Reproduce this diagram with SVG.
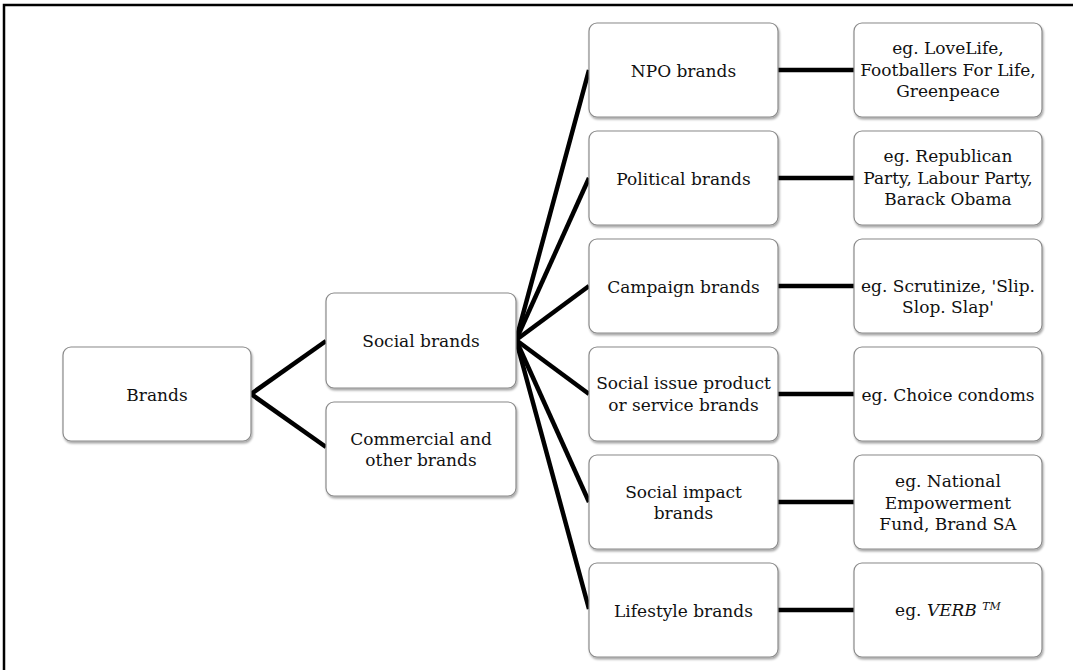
<svg xmlns="http://www.w3.org/2000/svg" width="1073" height="670" viewBox="0 0 1073 670">
<style>
.box{fill:#fff;stroke:#8a8a8a;stroke-width:1.2;filter:url(#sh)}
.t{font-family:"DejaVu Serif","Liberation Serif",serif;font-size:17px;fill:#111;text-anchor:middle}
.c{stroke:#000;stroke-width:4.5;fill:none}
.frame{stroke:#000;stroke-width:2.5;fill:none}
</style>
<defs>
<filter id="sh" x="-10%" y="-10%" width="130%" height="130%">
<feDropShadow dx="1" dy="2" stdDeviation="1.2" flood-color="#000" flood-opacity="0.35"/>
</filter>
</defs>
<rect width="1073" height="670" fill="#fff"/>
<path class="frame" d="M4 670 V5 H1073"/>
<g id="connectors">
<line class="c" x1="251" y1="394" x2="326" y2="341"/>
<line class="c" x1="251" y1="394" x2="326" y2="447"/>
<line class="c" x1="516" y1="340" x2="589" y2="70"/>
<line class="c" x1="516" y1="340" x2="589" y2="178"/>
<line class="c" x1="516" y1="340" x2="589" y2="286"/>
<line class="c" x1="516" y1="340" x2="589" y2="394"/>
<line class="c" x1="516" y1="340" x2="589" y2="502"/>
<line class="c" x1="516" y1="340" x2="589" y2="609"/>
<line class="c" x1="778" y1="70" x2="854" y2="70"/>
<line class="c" x1="778" y1="178" x2="854" y2="178"/>
<line class="c" x1="778" y1="286" x2="854" y2="286"/>
<line class="c" x1="778" y1="394" x2="854" y2="394"/>
<line class="c" x1="778" y1="502" x2="854" y2="502"/>
<line class="c" x1="778" y1="610" x2="854" y2="610"/>
</g>
<g id="brands"><rect class="box" x="63" y="347" width="188" height="94" rx="8"/><text class="t" x="157" y="400.5">Brands</text></g>
<g id="social"><rect class="box" x="326" y="293" width="190" height="95" rx="8"/><text class="t" x="421" y="347">Social brands</text></g>
<g id="commercial"><rect class="box" x="326" y="402" width="190" height="94" rx="8"/><text class="t" x="421" y="444.5">Commercial and</text><text class="t" x="421" y="466">other brands</text></g>
<g id="npo"><rect class="box" x="589" y="23" width="189" height="94" rx="8"/><text class="t" x="683.5" y="76.5">NPO brands</text></g>
<g id="political"><rect class="box" x="589" y="131" width="189" height="94" rx="8"/><text class="t" x="683.5" y="184.5">Political brands</text></g>
<g id="campaign"><rect class="box" x="589" y="239" width="189" height="94" rx="8"/><text class="t" x="683.5" y="292.5">Campaign brands</text></g>
<g id="issue"><rect class="box" x="589" y="347" width="189" height="94" rx="8"/><text class="t" x="683.5" y="389">Social issue product</text><text class="t" x="683.5" y="410.5">or service brands</text></g>
<g id="impact"><rect class="box" x="589" y="455" width="189" height="94" rx="8"/><text class="t" x="683.5" y="497.5">Social impact</text><text class="t" x="683.5" y="519">brands</text></g>
<g id="lifestyle"><rect class="box" x="589" y="563" width="189" height="94" rx="8"/><text class="t" x="683.5" y="616.5">Lifestyle brands</text></g>
<g id="ex-npo"><rect class="box" x="854" y="23" width="188" height="94" rx="8"/><text class="t" x="948" y="54">eg. LoveLife,</text><text class="t" x="948" y="75.5">Footballers For Life,</text><text class="t" x="948" y="97">Greenpeace</text></g>
<g id="ex-political"><rect class="box" x="854" y="131" width="188" height="94" rx="8"/><text class="t" x="948" y="162">eg. Republican</text><text class="t" x="948" y="183.5">Party, Labour Party,</text><text class="t" x="948" y="205">Barack Obama</text></g>
<g id="ex-campaign"><rect class="box" x="854" y="239" width="188" height="94" rx="8"/><text class="t" x="948" y="292">eg. Scrutinize, 'Slip.</text><text class="t" x="948" y="313">Slop. Slap'</text></g>
<g id="ex-issue"><rect class="box" x="854" y="347" width="188" height="94" rx="8"/><text class="t" x="948" y="400.5">eg. Choice condoms</text></g>
<g id="ex-impact"><rect class="box" x="854" y="455" width="188" height="94" rx="8"/><text class="t" x="948" y="486.5">eg. National</text><text class="t" x="948" y="508.5">Empowerment</text><text class="t" x="948" y="530">Fund, Brand SA</text></g>
<g id="ex-lifestyle"><rect class="box" x="854" y="563" width="188" height="94" rx="8"/><text class="t" x="948" y="616">eg. <tspan font-style="italic">VERB </tspan><tspan font-style="italic" font-size="11" dy="-6">TM</tspan></text></g>
</svg>
